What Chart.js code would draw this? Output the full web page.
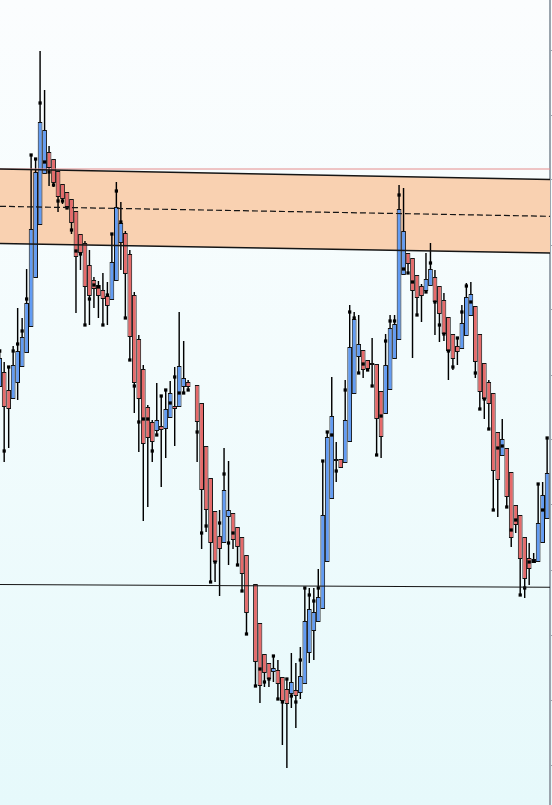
<!DOCTYPE html>
<html>
<head>
<meta charset="utf-8">
<script src="https://cdn.jsdelivr.net/npm/chart.js@4.4.1/dist/chart.umd.min.js"></script>
<style>
  html, body { margin: 0; padding: 0; overflow: hidden; }
  body {
    width: 552px; height: 805px;
    background: linear-gradient(to bottom, #fbfdfe 0%, #f3fcfd 45%, #e6f9fb 100%);
  }
  canvas { display: block; }
</style>
</head>
<body>
<canvas id="chart" width="552" height="805"></canvas>
<script>
// OHLC per session slot (null = no trading in that slot)
const OPEN = [
  161.3, 162.8, 161.0, 160.1, 161.7, 163.3, 164.7, 167.3, 172.2, 177.5,
  182.6, 184.8, 184.1, 182.9, 181.6, 180.8, 180.1, 178.9, 176.6, 175.7,
  173.5, 172.0, 171.5, 171.0, 170.4, 170.0, 171.9, 175.7, 176.7, 174.6,
  170.5, 166.1, 163.1, 159.3, 157.8, 156.9, 157.4, 157.1, 158.2, 159.4,
  159.3, 161.3, 161.8, null, 161.5, 159.7, 155.4, 152.2, 148.9, 146.4,
  145.7, 148.3, 148.7, 147.3, 146.3, 144.5, null, 141.6, 137.7, 134.6,
  133.7, 132.8, 133.0, 132.3, 131.1, 130.6, 131.0, 130.7, 131.6, 134.7,
  136.9, 137.8, 139.1, 143.8, 150.1, 154.1, 154.1, 153.7, 155.8, 160.6,
  164.3, 165.0, 164.0, 163.7, 163.6, 160.9, 158.6, 161.0, 164.1, 166.0,
  172.5, 174.7, 174.2, 172.5, 171.4, 170.9, 171.4, 172.3, 171.4, 170.0,
  168.3, 166.6, 165.4, 165.1, 166.4, 168.4, 169.4, 166.6, 163.7, 161.8,
  160.7, 156.8, 154.4, 155.2, 152.8, 149.5, 148.5, 146.3, 144.2, 143.7,
  143.8, 145.7, 148.1
];
const HIGH = [
  164.9, 163.8, 163.3, 165.4, 169.2, 168.2, 173.1, 184.5, 184.1, 194.9,
  191.0, 185.4, 184.1, 182.9, 181.6, 180.8, 180.1, 178.9, 176.6, 175.9,
  175.0, 172.3, 171.9, 172.7, 171.8, 176.6, 181.8, 179.8, 176.9, 175.0,
  170.8, 166.5, 163.5, 159.5, 158.0, 161.7, 160.4, 161.0, 161.9, 163.3,
  168.8, 165.9, 162.0, null, 161.5, 159.7, 155.4, 152.2, 148.9, 149.0,
  155.2, 153.9, 148.7, 147.3, 146.3, 144.5, null, 141.6, 137.7, 134.6,
  133.7, 134.4, 134.0, 132.3, 132.1, 134.7, 133.7, 135.3, 141.2, 141.2,
  141.2, 143.1, 153.9, 156.8, 162.3, 155.8, 154.1, 162.0, 169.5, 168.8,
  168.5, 165.0, 164.0, 166.2, 163.6, 160.9, 166.6, 168.5, 168.5, 181.5,
  181.2, 174.7, 174.2, 172.5, 171.6, 174.7, 175.7, 173.0, 171.4, 170.7,
  168.3, 166.6, 166.2, 169.5, 171.7, 171.8, 169.4, 166.6, 163.7, 162.0,
  160.7, 156.8, 158.1, 155.2, 152.8, 149.5, 148.5, 146.3, 145.7, 144.7,
  151.6, 151.8, 156.2
];
const LOW = [
  161.3, 153.8, 155.2, 160.1, 160.0, 163.3, 164.7, 167.3, 172.2, 177.5,
  182.6, 181.4, 181.3, 178.8, 179.6, 179.1, 176.6, 168.7, 173.0, 167.4,
  167.5, 169.2, 168.2, 167.5, 167.5, 170.0, 171.9, 173.0, 168.2, 164.0,
  158.7, 154.8, 147.9, 149.3, 153.8, 156.5, 151.3, 154.2, 158.2, 155.4,
  159.3, 160.7, 161.0, null, 153.8, 145.1, 146.8, 141.8, 141.8, 140.4,
  145.7, 143.5, 145.1, 143.5, 140.9, 136.6, null, 131.3, 129.7, 131.3,
  131.3, 131.8, 130.1, 125.5, 123.2, 129.2, 127.2, 130.1, 131.6, 133.7,
  134.0, 137.8, 139.1, 143.8, 150.1, 151.8, 153.2, 153.7, 155.8, 160.6,
  162.7, 162.2, 162.9, 161.4, 154.5, 154.2, 158.6, 161.0, 164.1, 166.0,
  172.5, 172.7, 164.2, 168.5, 167.8, 170.8, 171.4, 166.5, 165.8, 165.9,
  162.0, 163.0, 163.5, 165.1, 166.4, 168.4, 162.2, 159.1, 158.1, 157.1,
  149.0, 148.3, 154.4, 149.3, 145.3, 146.7, 140.5, 140.2, 141.5, 143.7,
  143.8, 145.7, 148.1
];
const CLOSE = [
  164.2, 159.3, 159.1, 163.5, 164.9, 166.3, 169.7, 177.1, 182.8, 187.8,
  187.0, 183.2, 181.7, 180.3, 180.1, 179.3, 177.7, 174.3, 174.7, 171.3,
  170.4, 171.1, 170.4, 170.1, 169.4, 173.8, 179.3, 177.7, 172.6, 166.3,
  161.7, 160.1, 155.6, 156.2, 155.8, 158.0, 157.0, 159.1, 160.7, 159.1,
  163.4, 162.2, 161.3, null, 157.8, 151.0, 149.0, 145.7, 143.8, 145.1,
  151.0, 149.0, 146.0, 145.3, 142.6, 138.7, null, 133.8, 131.4, 132.7,
  132.1, 133.2, 131.6, 129.9, 129.6, 131.8, 130.4, 132.4, 137.9, 139.1,
  138.8, 140.3, 148.5, 156.3, 158.4, 153.9, 153.2, 158.0, 165.3, 168.1,
  165.6, 163.0, 163.1, 163.5, 158.1, 156.3, 163.5, 167.2, 167.6, 179.1,
  176.9, 173.6, 170.9, 170.2, 170.4, 172.1, 173.1, 169.8, 168.6, 166.6,
  164.9, 164.1, 164.8, 167.7, 170.3, 170.6, 163.8, 160.8, 160.1, 159.6,
  152.9, 152.0, 156.1, 150.3, 146.2, 147.5, 144.1, 142.1, 143.1, 144.1,
  147.7, 150.5, 152.7
];
// Signal dots plotted with each session
const SIGNAL = [
  164.9, 154.9, 163.3, 164.9, 165.6, 166.9, 170.1, 184.5, 184.1, 189.7,
  183.8, 182.8, 181.5, 179.9, 179.9, 179.2, 177.0, 174.9, 174.6, 167.5,
  170.1, 171.5, 171.3, 167.5, 170.5, 176.6, 180.9, 177.8, 168.2, 164.0,
  161.4, 157.8, 158.1, 158.1, 154.9, 156.5, 160.4, 161.0, 159.7, 162.3,
  160.7, 160.7, 161.0, null, 156.8, 146.7, 147.4, 141.8, 143.8, 147.7,
  152.6, 145.7, 146.7, 143.5, 140.9, 136.6, null, 131.4, 133.1, 131.8,
  132.1, 134.4, 130.1, 129.8, 132.1, 130.4, 129.8, 134.0, 141.2, 140.5,
  139.9, 141.2, 153.9, 156.8, 156.5, 152.9, null, 161.0, 168.8, 168.2,
  162.7, 163.6, 163.0, 161.4, 154.5, 158.4, 165.9, 167.9, 167.9, 180.5,
  173.1, 172.7, 171.8, 168.5, null, 170.8, 173.7, 169.8, 167.5, 166.6,
  164.9, 163.3, 166.2, 168.8, 171.4, 169.8, 162.7, 159.1, 160.1, 157.1,
  149.0, 155.2, 155.4, 149.3, 147.0, 148.0, 140.5, 141.2, 143.8, 143.9,
  151.6, 149.0, 156.2
];

// Zone and level lines: value at the first and last visible slot
const ZONE_TOP = [183.1, 182.05];
const ZONE_MID = [179.37, 178.37];
const ZONE_BOTTOM = [175.65, 174.7];
const SUPPORT = [141.55, 141.27];
const PRIOR_HIGH = [183.1, 183.1];

// Price axis tick values
const PRICE_TICKS = [195, 188.5, 182, 175.5, 169, 162.5, 156, 149.5, 143, 136.5, 130, 123.5];

const X_MIN = 0.067, X_MAX = 122.64;
const Y_MIN = 119.5, Y_MAX = 200;

const UP = '#629cf4';
const DOWN = '#e66a6a';
const ZONE_FILL = '#f9d1b1';

const slots = OPEN.map((v, i) => i).filter(i => OPEN[i] !== null);
const bodies = slots.map(i => ({ x: i, y: [OPEN[i], CLOSE[i]] }));
const wicks = slots.map(i => ({ x: i, y: [LOW[i], HIGH[i]] }));
const dots = slots.filter(i => SIGNAL[i] !== null).map(i => ({ x: i, y: SIGNAL[i] }));
const span = v => [{ x: X_MIN, y: v[0] }, { x: X_MAX, y: v[1] }];

const lineBase = { type: 'line', pointRadius: 0, tension: 0, fill: false };

new Chart(document.getElementById('chart'), {
  type: 'bar',
  data: {
    datasets: [
      { ...lineBase, data: span(ZONE_TOP), borderWidth: 0, borderColor: 'rgba(0,0,0,0)', order: 20 },
      { ...lineBase, data: span(ZONE_BOTTOM), borderWidth: 0, borderColor: 'rgba(0,0,0,0)',
        fill: '-1', backgroundColor: ZONE_FILL, order: 20 },
      { type: 'bar', data: wicks, grouped: false, categoryPercentage: 1, barPercentage: 0.32,
        backgroundColor: '#000', borderWidth: 0, inflateAmount: 0, order: 6 },
      { type: 'bar', data: bodies, grouped: false, categoryPercentage: 1, barPercentage: 1.06,
        backgroundColor: ctx => {
          const i = ctx.raw ? ctx.raw.x : 0;
          return CLOSE[i] >= OPEN[i] ? UP : DOWN;
        },
        borderColor: '#111', borderWidth: 1, borderSkipped: false, inflateAmount: 0, order: 5 },
      { type: 'scatter', data: dots, pointStyle: 'rect', pointRadius: 2.3,
        pointBackgroundColor: '#000', pointBorderWidth: 0, showLine: false, order: 4 },
      { ...lineBase, data: span(PRIOR_HIGH), borderColor: '#e58c8c', borderWidth: 1, order: 3 },
      { ...lineBase, data: span(ZONE_TOP), borderColor: '#151515', borderWidth: 1.3, order: 2 },
      { ...lineBase, data: span(ZONE_BOTTOM), borderColor: '#151515', borderWidth: 1.3, order: 2 },
      { ...lineBase, data: span(ZONE_MID), borderColor: '#151515', borderWidth: 1.2, borderDash: [6, 3], order: 2 },
      { ...lineBase, data: span(SUPPORT), borderColor: '#151515', borderWidth: 1.1, order: 2 }
    ]
  },
  options: {
    responsive: false,
    animation: false,
    events: [],
    layout: { padding: 0, autoPadding: false },
    plugins: { legend: { display: false }, tooltip: { enabled: false } },
    scales: {
      x: {
        type: 'linear', min: X_MIN, max: X_MAX, offset: false, display: false,
        ticks: { stepSize: 50 }, grid: { display: false }
      },
      y: {
        position: 'right', min: Y_MIN, max: Y_MAX, stacked: false,
        afterBuildTicks: s => { s.ticks = PRICE_TICKS.map(v => ({ value: v })); },
        afterFit: s => { s.width = 2; },
        ticks: { display: false },
        grid: { drawOnChartArea: false, drawTicks: true, tickLength: 5, color: '#9aa4ad', lineWidth: 1 },
        border: { display: true, color: '#9aa4ad', width: 2 }
      }
    }
  }
});
</script>
</body>
</html>
